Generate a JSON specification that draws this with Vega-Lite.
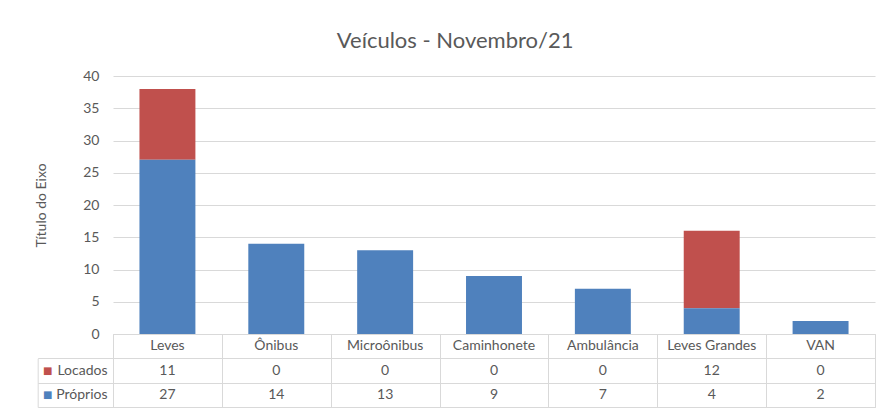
{
  "$schema": "https://vega.github.io/schema/vega-lite/v6.json",
  "padding": {"left": 34, "top": 30, "right": 0, "bottom": 0},
  "bounds": "flush",
  "background": "white",
  "title": {"text": "Veículos - Novembro/21", "fontSize": 22, "font": "Lato", "fontWeight": "normal", "color": "#595959", "anchor": "middle", "offset": 16},
  "config": {"font": "Lato", "view": {"stroke": null}, "concat": {"spacing": 0}},
  "data": {"values": [
    {"categoria": "Leves", "serie": "Locados", "valor": 11},
    {"categoria": "Leves", "serie": "Próprios", "valor": 27},
    {"categoria": "Ônibus", "serie": "Locados", "valor": 0},
    {"categoria": "Ônibus", "serie": "Próprios", "valor": 14},
    {"categoria": "Microônibus", "serie": "Locados", "valor": 0},
    {"categoria": "Microônibus", "serie": "Próprios", "valor": 13},
    {"categoria": "Caminhonete", "serie": "Locados", "valor": 0},
    {"categoria": "Caminhonete", "serie": "Próprios", "valor": 9},
    {"categoria": "Ambulância", "serie": "Locados", "valor": 0},
    {"categoria": "Ambulância", "serie": "Próprios", "valor": 7},
    {"categoria": "Leves Grandes", "serie": "Locados", "valor": 12},
    {"categoria": "Leves Grandes", "serie": "Próprios", "valor": 4},
    {"categoria": "VAN", "serie": "Locados", "valor": 0},
    {"categoria": "VAN", "serie": "Próprios", "valor": 2}
  ]},
  "vconcat": [
    {
      "width": 762,
      "height": 258,
      "mark": {"type": "bar"},
      "encoding": {
        "x": {"field": "categoria", "type": "nominal", "sort": ["Leves", "Ônibus", "Microônibus", "Caminhonete", "Ambulância", "Leves Grandes", "VAN"], "scale": {"paddingInner": 0.486, "paddingOuter": 0.243}, "axis": null},
        "y": {"field": "valor", "type": "quantitative", "stack": "zero", "scale": {"domain": [0, 40]},
          "axis": {"values": [0, 5, 10, 15, 20, 25, 30, 35, 40], "grid": true, "gridColor": "#d9d9d9", "domain": false, "ticks": false, "tickSize": 0, "labelPadding": 14, "labelFontSize": 14, "labelColor": "#595959", "title": "Título do Eixo", "titleFontSize": 14, "titleFontWeight": "normal", "titleColor": "#595959", "titlePadding": 34}},
        "color": {"field": "serie", "type": "nominal", "scale": {"domain": ["Locados", "Próprios"], "range": ["#C0504D", "#4F81BD"]}, "legend": null},
        "order": {"field": "serie", "sort": "descending"}
      }
    },
    {
      "width": 762,
      "height": 73,
      "view": {"stroke": "#d9d9d9"},
      "layer": [
        {
          "mark": {"type": "text", "fontSize": 14, "color": "#595959"},
          "encoding": {
            "x": {"field": "categoria", "type": "nominal", "sort": ["Leves", "Ônibus", "Microônibus", "Caminhonete", "Ambulância", "Leves Grandes", "VAN"], "scale": {"type": "band", "paddingInner": 0, "paddingOuter": 0},
              "axis": {"orient": "bottom", "title": null, "labels": false, "ticks": false, "domain": false, "grid": true, "gridColor": "#d9d9d9", "tickBand": "extent"}},
            "y": {"field": "serie", "type": "nominal", "scale": {"type": "band", "domain": ["hdr", "Locados", "Próprios"], "paddingInner": 0, "paddingOuter": 0},
              "axis": {"orient": "left", "title": null, "values": ["Locados", "Próprios"], "ticks": false, "tickSize": 0, "domain": false, "grid": true, "gridColor": "#d9d9d9", "tickBand": "extent", "labelPadding": 6, "labelFontSize": 14, "labelColor": "#595959"}},
            "text": {"field": "valor", "type": "quantitative"}
          }
        },
        {
          "transform": [{"filter": "datum.serie == 'Próprios'"}],
          "mark": {"type": "text", "fontSize": 14, "color": "#595959"},
          "encoding": {
            "x": {"field": "categoria", "type": "nominal", "sort": ["Leves", "Ônibus", "Microônibus", "Caminhonete", "Ambulância", "Leves Grandes", "VAN"], "scale": {"type": "band", "paddingInner": 0, "paddingOuter": 0},
              "axis": {"orient": "bottom", "title": null, "labels": false, "ticks": false, "domain": false, "grid": true, "gridColor": "#d9d9d9", "tickBand": "extent"}},
            "y": {"datum": "hdr", "type": "nominal", "scale": {"type": "band", "domain": ["hdr", "Locados", "Próprios"], "paddingInner": 0, "paddingOuter": 0}, "axis": null},
            "text": {"field": "categoria", "type": "nominal"}
          }
        },
        {
          "mark": {"type": "text", "opacity": 0},
          "encoding": {
            "y": {"field": "serie", "type": "nominal", "scale": {"type": "band", "domain": ["hdr", "Locados", "Próprios"], "paddingInner": 0, "paddingOuter": 0},
              "axis": {"orient": "left", "title": null, "values": ["Locados", "Próprios"], "ticks": false, "tickSize": 0, "domain": false, "grid": false, "labelExpr": "'■'", "labelFont": "DejaVu Sans", "labelFontSize": 10, "labelPadding": 61,
                "labelColor": {"condition": {"test": "datum.value == 'Locados'", "value": "#C0504D"}, "value": "#4F81BD"}}}
          }
        },
        {
          "mark": {"type": "text", "opacity": 0},
          "encoding": {
            "y": {"field": "serie", "type": "nominal", "scale": {"type": "band", "domain": ["hdr", "Locados", "Próprios"], "paddingInner": 0, "paddingOuter": 0},
              "axis": {"orient": "left", "title": null, "values": ["Locados", "Próprios"], "labels": false, "grid": false, "ticks": true, "tickBand": "extent", "tickSize": -75.3, "tickColor": "#d9d9d9", "offset": 75.3, "domain": true, "domainColor": "#d9d9d9", "domainDash": [0, 24.33, 60]}}
          }
        }
      ],
      "resolve": {"axis": {"y": "independent"}}
    }
  ],
  "resolve": {"scale": {"x": "independent", "y": "independent", "color": "independent"}}
}
